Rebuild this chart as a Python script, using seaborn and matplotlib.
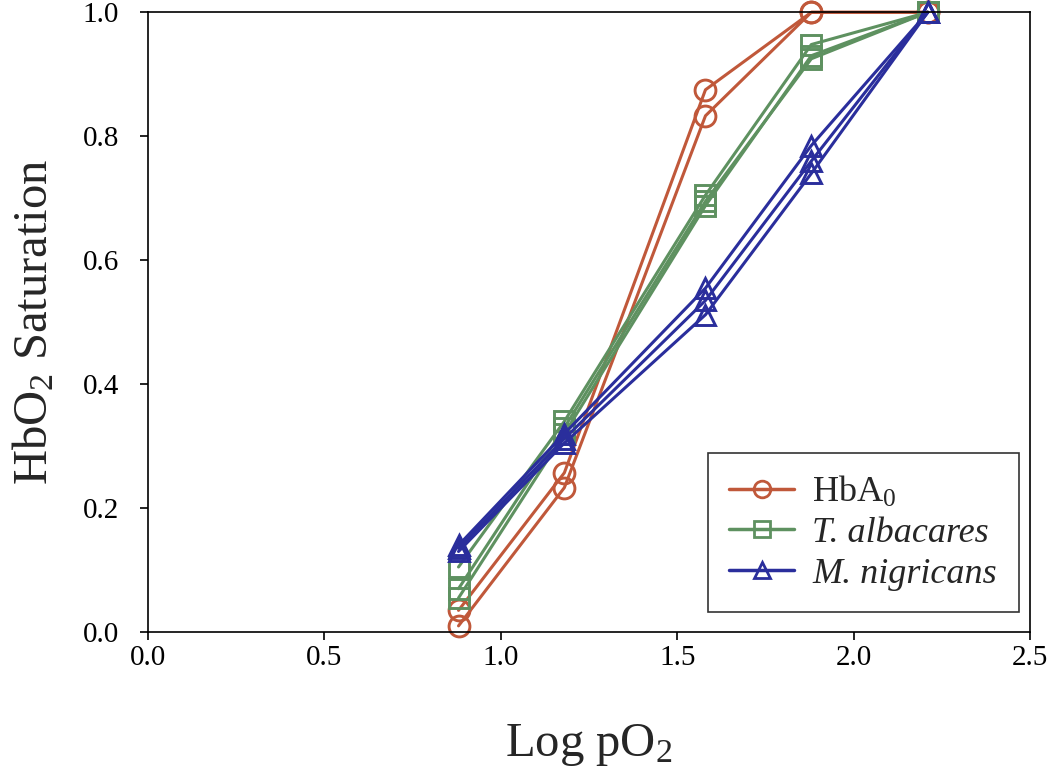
import numpy as np
import pandas as pd
import matplotlib
matplotlib.use("Agg")
import matplotlib.pyplot as plt
from matplotlib.lines import Line2D
import seaborn as sns

# Oxygen equilibrium curves, replicate runs per hemoglobin
log_po2 = [0.88, 1.18, 1.58, 1.88, 2.21]

hba0 = [
    [0.035, 0.257, 0.875, 1.000, 1.000],
    [0.010, 0.233, 0.833, 1.000, 1.000],
]
albacares = [
    [0.105, 0.340, 0.705, 0.948, 1.000],
    [0.070, 0.330, 0.695, 0.925, 1.000],
    [0.055, 0.320, 0.688, 0.930, 1.000],
]
nigricans = [
    [0.140, 0.320, 0.555, 0.785, 1.000],
    [0.135, 0.312, 0.535, 0.760, 1.000],
    [0.130, 0.305, 0.512, 0.740, 1.000],
]

species = ["HbA0", "T. albacares", "M. nigricans"]
series = [hba0, albacares, nigricans]
colors = ["#C0583A", "#5E9160", "#2A2E9C"]
markers = ["o", "s", "^"]

rows = []
for sp, reps in zip(species, series):
    for i, rep in enumerate(reps):
        for x, y in zip(log_po2, rep):
            rows.append({"species": sp, "rep": i, "logpo2": x, "sat": y})
df = pd.DataFrame(rows)

sns.set_style("white")
plt.rcParams["font.family"] = "serif"
plt.rcParams["font.serif"] = ["Liberation Serif"]
plt.rcParams["mathtext.fontset"] = "custom"
plt.rcParams["mathtext.rm"] = "Liberation Serif"
plt.rcParams["mathtext.it"] = "Liberation Serif:italic"
plt.rcParams["mathtext.default"] = "regular"

fig = plt.figure(figsize=(10.5, 7.68), dpi=100)
ax = fig.add_axes([0.141, 0.177, 0.840, 0.807])

sns.lineplot(data=df, x="logpo2", y="sat", hue="species", style="species",
             units="rep", estimator=None, sort=False,
             palette=dict(zip(species, colors)),
             markers=dict(zip(species, markers)), dashes=False,
             markerfacecolor="none", markersize=15, markeredgewidth=2.1,
             linewidth=2.2, legend=False, ax=ax, clip_on=False)
for ln in ax.lines:
    ln.set_markeredgecolor(ln.get_color())

ax.set_xlim(0, 2.5)
ax.set_ylim(0, 1.0)
ax.set_xticks(np.arange(0, 2.51, 0.5))
ax.set_yticks(np.arange(0, 1.01, 0.2))
ax.xaxis.set_major_formatter(matplotlib.ticker.FormatStrFormatter("%.1f"))
ax.yaxis.set_major_formatter(matplotlib.ticker.FormatStrFormatter("%.1f"))
ax.tick_params(axis="both", direction="out", length=6, width=1.2,
               labelsize=21, bottom=True, left=True, top=False, right=False,
               colors="black")
ax.tick_params(axis="y", pad=15)
ax.tick_params(axis="x", pad=3)
for sp in ax.spines.values():
    sp.set_color("black")
    sp.set_linewidth(1.2)

ax.set_xlabel(r"Log pO$_2$", fontsize=35, labelpad=37)
ax.set_ylabel(r"HbO$_2$ Saturation", fontsize=35, labelpad=18)

labels = [r"HbA$_0$", "T. albacares", "M. nigricans"]
handles = [Line2D([], [], color=c, marker=m, markerfacecolor="none",
                  markeredgecolor=c, markersize=12, markeredgewidth=2,
                  linewidth=2.5) for c, m in zip(colors, markers)]
leg = ax.legend(handles, labels, loc="lower right", fontsize=26,
                frameon=True, fancybox=False, edgecolor="black",
                handlelength=1.8, handletextpad=0.5, borderpad=0.6,
                labelspacing=0.2, borderaxespad=0,
                bbox_to_anchor=(0.987, 0.032))
leg.get_frame().set_linewidth(1.2)
for t in leg.get_texts()[1:]:
    t.set_fontstyle("italic")

fig.savefig("out.png", dpi=100)
